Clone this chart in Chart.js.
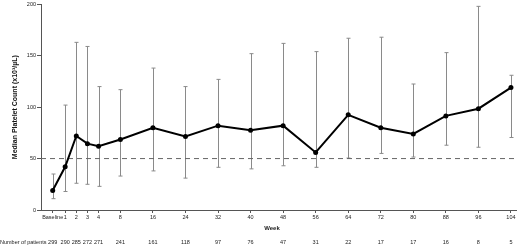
<!DOCTYPE html>
<html>
<head>
<meta charset="utf-8">
<script src="https://cdn.jsdelivr.net/npm/chart.js@4.4.0/dist/chart.umd.min.js"></script>
<style>
  html, body { margin: 0; padding: 0; background: #fff; }
  canvas { display: block; }
</style>
</head>
<body>
<canvas id="c" width="520" height="247"></canvas>
<script>
const categories = ['Baseline','1','2','3','4','8','16','24','32','40','48','56','64','72','80','88','96','104'];
const weeks = [0,1,2,3,4,8,16,24,32,40,48,56,64,72,80,88,96,104];
const medianValues = [19,42,72,64.5,62,68.5,80,71.5,82,77.5,82,56,92.5,80,74,91.5,98.5,119];
const upperValues = [35,102,163,159,120,117,138,120,127,152,162,154,167,168,122.5,153,198,131];
const lowerValues = [11,18,26,25,23,33,38,31,41.5,40,43,41.5,50.5,55,51.5,63,61,70.5];
const patients = [299,290,285,272,271,241,161,118,97,76,47,31,22,17,17,16,8,5];
const yTicks = [0,50,100,150,200];
const referenceLine = 50;

// broken week axis: weekly spacing up to week 4, compressed after
function axisPos(w) {
  if (w === 0) return -0.12;
  if (w <= 4) return w;
  return 5.96 + (w - 8) * 2.923 / 8;
}
const X_MIN = -1.17, X_MAX = 41.49;

const FONT = 'Liberation Sans, Arial, sans-serif';

const extrasPlugin = {
  id: 'extras',
  beforeDatasetsDraw(chart) {
    const ctx = chart.ctx, xs = chart.scales.x, ys = chart.scales.y;
    ctx.save();
    ctx.strokeStyle = '#8a8a8a';
    ctx.lineWidth = 1;
    weeks.forEach((w, i) => {
      const x = Math.round(xs.getPixelForValue(axisPos(w))) + 0.5;
      const yt = ys.getPixelForValue(upperValues[i]);
      const yb = ys.getPixelForValue(lowerValues[i]);
      ctx.beginPath();
      ctx.moveTo(x, yt); ctx.lineTo(x, yb);
      ctx.moveTo(x - 2, yt); ctx.lineTo(x + 2, yt);
      ctx.moveTo(x - 2, yb); ctx.lineTo(x + 2, yb);
      ctx.stroke();
    });
    ctx.restore();
  },
  afterDraw(chart) {
    const ctx = chart.ctx, xs = chart.scales.x;
    ctx.save();
    ctx.fillStyle = '#222';
    ctx.font = '5.5px ' + FONT;
    ctx.textBaseline = 'middle';
    ctx.textAlign = 'left';
    ctx.fillText('Number of patients', 0, 242);
    ctx.textAlign = 'center';
    weeks.forEach((w, i) => {
      ctx.fillText(String(patients[i]), xs.getPixelForValue(axisPos(w)), 242);
    });
    ctx.font = 'bold 6px ' + FONT;
    ctx.fillText('Week', 272, 228);
    ctx.restore();
  }
};

new Chart(document.getElementById('c'), {
  type: 'line',
  data: {
    datasets: [
      {
        data: weeks.map((w, i) => ({ x: axisPos(w), y: medianValues[i] })),
        borderColor: '#000',
        backgroundColor: '#000',
        borderWidth: 2,
        pointRadius: 2.5,
        pointBackgroundColor: '#000',
        pointBorderWidth: 0,
        tension: 0,
        order: 1
      },
      {
        data: [{ x: X_MIN, y: referenceLine }, { x: X_MAX, y: referenceLine }],
        borderColor: '#666',
        borderWidth: 1,
        borderDash: [5, 4],
        pointRadius: 0,
        order: 2
      }
    ]
  },
  options: {
    responsive: false,
    animation: false,
    devicePixelRatio: 1,
    layout: { padding: { top: 3, right: 0, bottom: 0, left: 0 } },
    plugins: { legend: { display: false }, tooltip: { enabled: false } },
    scales: {
      x: {
        type: 'linear',
        min: X_MIN,
        max: X_MAX,
        afterBuildTicks(scale) { scale.ticks = weeks.map(w => ({ value: axisPos(w) })); },
        afterFit(scale) { scale.height = 37; },
        ticks: {
          autoSkip: false,
          maxRotation: 0,
          padding: 1,
          color: '#222',
          font: { family: FONT, size: 5.5 },
          callback: (v, i) => categories[i]
        },
        grid: { drawOnChartArea: false, drawTicks: true, tickLength: 3, color: '#555' },
        border: { display: true, color: '#555', width: 1 }
      },
      y: {
        min: 0,
        max: 200,
        afterBuildTicks(scale) { scale.ticks = yTicks.map(v => ({ value: v })); },
        afterFit(scale) { scale.width = 41; },
        ticks: {
          padding: 1,
          color: '#222',
          font: { family: FONT, size: 5.5 }
        },
        grid: { drawOnChartArea: false, drawTicks: true, tickLength: 4, color: '#555' },
        border: { display: true, color: '#555', width: 1 },
        title: {
          display: true,
          text: 'Median Platelet Count (x10³/µL)',
          color: '#111',
          font: { family: FONT, size: 7, weight: 'bold' },
          padding: { top: 11, bottom: 0 }
        }
      }
    }
  },
  plugins: [extrasPlugin]
});
</script>
</body>
</html>
